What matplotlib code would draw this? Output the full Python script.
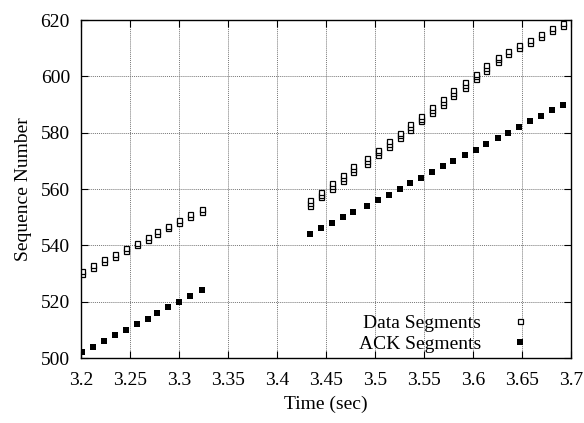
import numpy as np, matplotlib
matplotlib.use("Agg")
import matplotlib.pyplot as plt

plt.rcParams['font.family'] = ['Liberation Serif', 'DejaVu Serif']
plt.rcParams['font.size'] = 14

# send times (sec), shared by data and ack marks
times = [3.201, 3.212, 3.223, 3.235, 3.246, 3.257, 3.268, 3.278, 3.289, 3.300, 3.311, 3.323,
         3.434, 3.445, 3.456, 3.467, 3.478, 3.492, 3.503, 3.514, 3.525, 3.536, 3.547, 3.558,
         3.569, 3.580, 3.592, 3.603, 3.613, 3.625, 3.636, 3.647, 3.658, 3.669, 3.681, 3.692]

# data segments sent at each time
data_segs = [[530, 531], [532, 533], [534, 535], [536, 537], [538, 539], [540, 541],
             [542, 543], [544, 545], [546, 547], [548, 549], [550, 551], [552, 553],
             [554, 555, 556], [557, 558, 559], [560, 561, 562], [563, 564, 565],
             [566, 567, 568], [569, 570, 571], [572, 573, 574], [575, 576, 577],
             [578, 579, 580], [581, 582, 583], [584, 585, 586], [587, 588, 589],
             [590, 591, 592], [593, 594, 595], [596, 597, 598], [599, 600, 601],
             [602, 603, 604], [605, 606, 607], [608, 609], [610, 611], [612, 613],
             [614, 615], [616, 617], [618, 619]]

# ack numbers at each time
acks = [502, 504, 506, 508, 510, 512, 514, 516, 518, 520, 522, 524,
        544, 546, 548, 550, 552, 554, 556, 558, 560, 562, 564, 566,
        568, 570, 572, 574, 576, 578, 580, 582, 584, 586, 588, 590]

xticks = [3.2, 3.25, 3.3, 3.35, 3.4, 3.45, 3.5, 3.55, 3.6, 3.65, 3.7]
xtick_labels = ["3.2", "3.25", "3.3", "3.35", "3.4", "3.45", "3.5", "3.55", "3.6", "3.65", "3.7"]
yticks = [500, 520, 540, 560, 580, 600, 620]

dx = [t for t, segs in zip(times, data_segs) for _ in segs]
dy = [s for segs in data_segs for s in segs]

fig = plt.figure(figsize=(5.84, 4.23), dpi=100)
ax = fig.add_axes([81/584, 65/423, 490/584, 338/423])

ax.plot(dx, dy, ls="none", marker="s", ms=3.6, mfc="white", mec="black", mew=0.9,
        label="Data Segments")
ax.plot(times, acks, ls="none", marker="s", ms=4.2, mfc="black", mec="black", mew=0,
        label="ACK Segments")

ax.set_xlim(3.2, 3.7); ax.set_ylim(500, 620)
ax.set_xticks(xticks); ax.set_xticklabels(xtick_labels)
ax.set_yticks(yticks)
ax.tick_params(direction="in", length=5, width=0.8, top=True, right=True)
ax.tick_params(axis="x", pad=10)
ax.tick_params(axis="y", pad=8)
ax.grid(True, ls=(0, (1, 1)), color="#777777", lw=0.7)
ax.set_axisbelow(True)
for sp in ax.spines.values(): sp.set_linewidth(1.0)

ax.set_xlabel("Time (sec)", labelpad=5)
ax.set_ylabel("Sequence Number", labelpad=6)

ax.legend(loc="lower right", bbox_to_anchor=(0.947, -0.03), frameon=False,
          markerfirst=False, handletextpad=1.5, handlelength=1.0, labelspacing=0.15,
          borderpad=0.3)

fig.savefig("out.png", dpi=100)
